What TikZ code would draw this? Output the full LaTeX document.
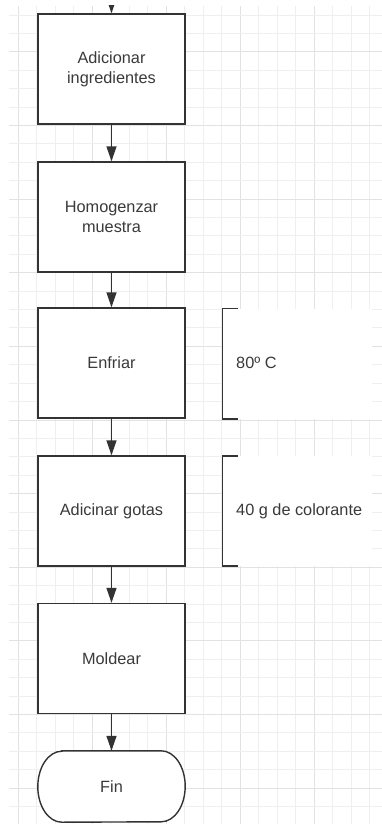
\documentclass[tikz,border=0pt]{standalone}
\usepackage{fontspec}
\setmainfont{Liberation Sans}
\usetikzlibrary{arrows.meta}
\definecolor{linec}{HTML}{333333}
\definecolor{textc}{HTML}{3A3A3A}
\definecolor{gridminor}{HTML}{EFEFEF}
\definecolor{gridmajor}{HTML}{E2E2E2}
\tikzset{
  procbox/.style={draw=linec, line width=1.4pt, fill=white, minimum width=147pt, minimum height=110pt, inner sep=0pt, align=center, text=textc, font=\fontsize{16.3}{20}\selectfont},
  termbox/.style={minimum width=147pt, minimum height=71pt, inner sep=0pt, align=center, text=textc, font=\fontsize{16.3}{20}\selectfont},
  arr/.style={draw=linec, line width=1.4pt, -{Triangle[length=15pt,width=10pt]}},
  notebg/.style={fill=white, draw=none},
  bracketline/.style={draw=linec, line width=1.4pt},
  notetext/.style={anchor=west, inner sep=0pt, text=textc, font=\fontsize{16.3}{20}\selectfont}
}
\begin{document}
\begin{tikzpicture}[x=1pt,y=-1pt]
\useasboundingbox (0,0) rectangle (382,825);
\fill[white] (0,0) rectangle (382,825);
% grid
\begin{scope}
\clip (9,6) rectangle (382,823);
\foreach \k in {0,...,20} {
  \pgfmathtruncatemacro{\m}{mod(\k,4)}
  \ifnum\m=0
    \draw[gridmajor, line width=1pt] ({18.3+18.5*\k},0) -- ({18.3+18.5*\k},825);
  \else
    \draw[gridminor, line width=1pt] ({18.3+18.5*\k},0) -- ({18.3+18.5*\k},825);
  \fi
}
\foreach \k in {0,...,44} {
  \pgfmathtruncatemacro{\m}{mod(\k,4)}
  \ifnum\m=2
    \draw[gridmajor, line width=1pt] (0,{15+18.41*\k}) -- (382,{15+18.41*\k});
  \else
    \draw[gridminor, line width=1pt] (0,{15+18.41*\k}) -- (382,{15+18.41*\k});
  \fi
}
\end{scope}
\begin{scope}
\clip (0,5) rectangle (382,825);
% nodes
\node[procbox] (b1) at (111.5,69) {Adicionar\\ingredientes};
\node[procbox] (b2) at (111.5,217) {Homogenzar\\muestra};
\node[procbox] (b3) at (111.5,363) {Enfriar};
\node[procbox] (b4) at (111.5,511) {Adicinar gotas};
\node[procbox] (b5) at (111.5,658.5) {Moldear};
\node[termbox] (fin) at (111.5,786.5) {};
\draw[draw=linec, line width=1.4pt, fill=white]
  ([xshift=24pt]fin.north west) -- ([xshift=-24pt]fin.north east)
  arc[start angle=90, end angle=-90, x radius=24pt, y radius=35.5pt]
  -- ([xshift=24pt]fin.south west)
  arc[start angle=-90, end angle=-270, x radius=24pt, y radius=35.5pt] -- cycle;
\node[termbox] at (fin.center) {Fin};
% connectors
\coordinate (topin) at (111.5,-12);
\draw[arr] (topin) -- (b1.north);
\draw[arr] (b1.south) -- (b2.north);
\draw[arr] (b2.south) -- (b3.north);
\draw[arr] (b3.south) -- (b4.north);
\draw[arr] (b4.south) -- (b5.north);
\draw[arr] (b5.south) -- (fin.north);
% annotations
\fill[notebg] (222.7,308.5) rectangle (371.5,419);
\draw[bracketline] (237.5,308.5) -- (222.7,308.5) -- (222.7,419) -- (237.5,419);
\node[notetext] (n1) at (236,363) {80º C};
\fill[notebg] (222.7,456) rectangle (371.5,566);
\draw[bracketline] (237.5,456) -- (222.7,456) -- (222.7,566) -- (237.5,566);
\node[notetext] (n2) at (236,511) {40 g de colorante};
\end{scope}
\end{tikzpicture}
\end{document}
